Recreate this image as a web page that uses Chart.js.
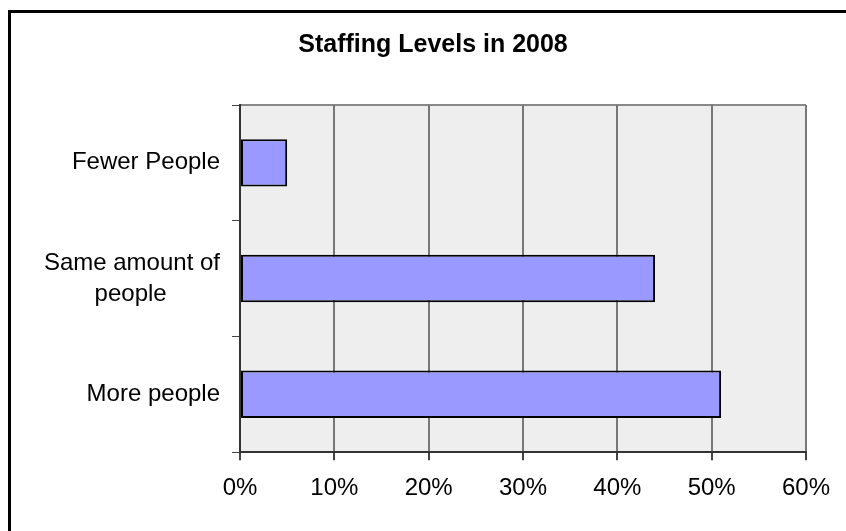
<!DOCTYPE html>
<html lang="en">
<head>
    <meta charset="UTF-8">
    <title>Staffing Levels in 2008</title>
    <script src="https://cdn.jsdelivr.net/npm/chart.js"></script>
    <style>
        html, body {
            margin: 0;
            padding: 0;
            background: white;
            overflow: hidden;
        }
        .wrap {
            position: relative;
            width: 846px;
            height: 531px;
        }
        .frame {
            position: absolute;
            left: 8px;
            top: 10px;
            width: 900px;
            height: 600px;
            border-left: 3px solid black;
            border-top: 3px solid black;
            pointer-events: none;
        }
    </style>
</head>
<body>
    <div class="wrap">
        <canvas id="barChart" width="846" height="531"></canvas>
        <div class="frame"></div>
    </div>

    <script>
        const chartTitle = 'Staffing Levels in 2008';
        // second line padded so it sits centred under the first, as in the original
        const categories = ["Fewer People", ["Same amount of", "people        "], "More people"];
        const values = [5, 44, 51];
        const xTicks = [0, 10, 20, 30, 40, 50, 60];

        // grey plot area with a thin top edge, like the spreadsheet chart
        const plotArea = {
            id: 'plotArea',
            beforeDraw(chart) {
                const { ctx, chartArea: a } = chart;
                ctx.save();
                ctx.fillStyle = '#eeeeee';
                ctx.fillRect(a.left, a.top, a.right - a.left, a.bottom - a.top);
                ctx.strokeStyle = '#888888';
                ctx.lineWidth = 2;
                ctx.beginPath();
                ctx.moveTo(a.left, a.top);
                ctx.lineTo(a.right, a.top);
                ctx.stroke();
                ctx.restore();
            }
        };

        // title sits a bit right of the page centre in the original, so place it by hand
        const titleText = {
            id: 'titleText',
            afterDraw(chart) {
                const ctx = chart.ctx;
                ctx.save();
                ctx.font = 'bold 25px "Liberation Sans"';
                ctx.fillStyle = '#000';
                ctx.textAlign = 'center';
                ctx.textBaseline = 'middle';
                ctx.fillText(chartTitle, 433, 45);
                ctx.restore();
            }
        };

        new Chart(document.getElementById('barChart'), {
            type: 'bar',
            data: {
                labels: categories,
                datasets: [{
                    data: values,
                    backgroundColor: '#9999ff',
                    borderColor: '#000000',
                    borderWidth: 2,
                    borderSkipped: false,
                    barPercentage: 0.41,
                    categoryPercentage: 1
                }]
            },
            options: {
                indexAxis: 'y',
                responsive: false,
                animation: false,
                layout: { padding: { left: 20, right: 40, top: 105, bottom: 14 } },
                plugins: {
                    legend: { display: false },
                    tooltip: { enabled: false },
                    title: { display: false }
                },
                scales: {
                    x: {
                        min: 0,
                        max: 60,
                        afterBuildTicks: (scale) => {
                            scale.ticks = xTicks.map(v => ({ value: v }));
                        },
                        ticks: {
                            callback: (v) => v + '%',
                            color: '#000',
                            padding: 14,
                            maxRotation: 0,
                            font: { family: 'Liberation Sans', size: 24 }
                        },
                        grid: {
                            color: '#777777',
                            lineWidth: 2,
                            tickLength: 8,
                            tickColor: '#444444'
                        },
                        border: { color: '#333333', width: 2 }
                    },
                    y: {
                        afterFit: (scale) => { scale.width = 220; },
                        ticks: {
                            color: '#000',
                            padding: 12,
                            font: { family: 'Liberation Sans', size: 24, lineHeight: 1.3 }
                        },
                        grid: {
                            offset: true,
                            drawOnChartArea: false,
                            tickLength: 8,
                            color: '#444444',
                            lineWidth: 1
                        },
                        border: { color: '#333333', width: 2 }
                    }
                }
            },
            plugins: [plotArea, titleText]
        });
    </script>
</body>
</html>
